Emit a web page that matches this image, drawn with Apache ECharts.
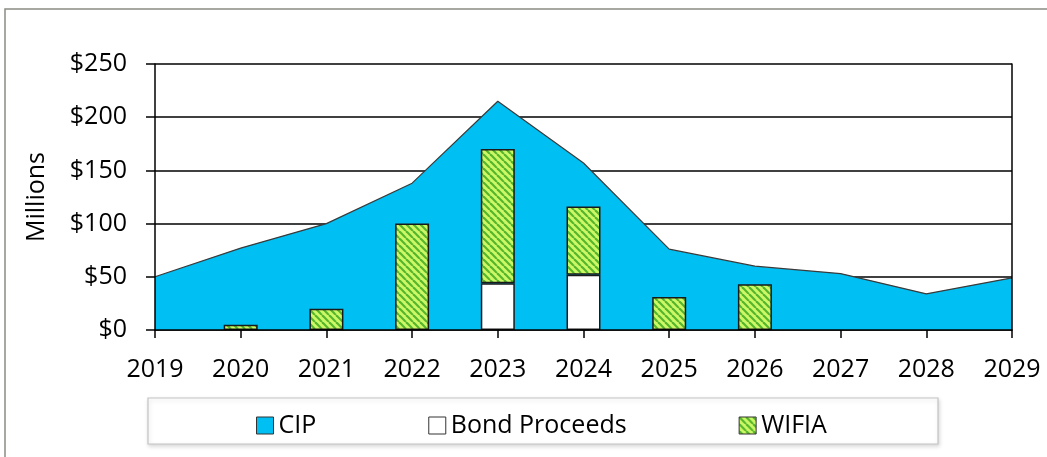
<!DOCTYPE html>
<html>
<head>
<meta charset="utf-8">
<script src="https://cdn.jsdelivr.net/npm/echarts@6/dist/echarts.min.js"></script>
<style>
html,body{margin:0;padding:0;background:#fff;}
#chart{width:1047px;height:457px;}
</style>
</head>
<body>
<div id="chart"></div>
<script>
const years = ['2019','2020','2021','2022','2023','2024','2025','2026','2027','2028','2029'];
const cip = [50, 77, 100, 138, 215, 157, 76, 60, 53, 34, 49];
const bondProceeds = [null, null, null, null, 44, 52, null, null, null, null, null];
const wifia = [null, 5, 20, 100, 126, 64, 31, 43, null, null, null];
const yTicks = [0, 50, 100, 150, 200, 250];

function makeHatch() {
  const p = 7;
  const c = document.createElement('canvas');
  c.width = p; c.height = p;
  const g = c.getContext('2d');
  g.fillStyle = '#ccf866';
  g.fillRect(0, 0, p, p);
  g.strokeStyle = '#55b52c';
  g.lineWidth = 2.2;
  for (let k = -1; k <= 1; k++) {
    g.beginPath();
    g.moveTo(k * p, 0);
    g.lineTo(k * p + p, p);
    g.stroke();
  }
  return c;
}
const hatch = { image: makeHatch(), repeat: 'repeat' };

const FONT = '"Open Sans", sans-serif';
const chart = echarts.init(document.getElementById('chart'), null, { renderer: 'canvas' });
chart.setOption({
  animation: false,
  backgroundColor: '#fff',
  textStyle: { fontFamily: FONT },
  graphic: [
    { type: 'rect', z: 0, shape: { x: 5, y: 9, width: 1100, height: 500 },
      style: { fill: 'none', stroke: '#8c8c84', lineWidth: 1.5 } },
    { type: 'rect', z: 0, shape: { x: 148, y: 398, width: 790, height: 46 },
      style: { fill: '#fff', stroke: '#c4c4c4', lineWidth: 1.2,
               shadowBlur: 4, shadowColor: 'rgba(0,0,0,0.15)', shadowOffsetY: 2, shadowOffsetX: 1 } }
  ],
  grid: { left: 155, right: 35, top: 64, bottom: 127 },
  legend: {
    left: 251, top: 408,
    itemWidth: 17, itemHeight: 17, itemGap: 112,
    textStyle: { fontSize: 25, color: '#000', fontFamily: FONT },
    data: [
      { name: 'CIP', icon: 'rect', itemStyle: { color: '#00bff2', borderColor: '#333', borderWidth: 1 } },
      { name: 'Bond Proceeds', icon: 'rect', itemStyle: { color: '#fff', borderColor: '#333', borderWidth: 1 } },
      { name: 'WIFIA', icon: 'rect', itemStyle: { color: hatch, borderColor: '#333', borderWidth: 1 } }
    ]
  },
  xAxis: {
    type: 'category', data: years, boundaryGap: false, z: 10,
    axisLine: { lineStyle: { color: '#000', width: 1.5 } },
    axisTick: { show: true, length: 8, lineStyle: { color: '#000', width: 1.5 } },
    axisLabel: { fontSize: 25, color: '#000', margin: 27, fontFamily: FONT, interval: 0 },
    splitLine: { show: false }
  },
  yAxis: [
    {
      type: 'value', min: 0, max: 250, interval: 50, z: 0,
      name: 'Millions', nameLocation: 'middle', nameGap: 106, nameRotate: 90,
      nameTextStyle: { fontSize: 25, color: '#000', fontFamily: FONT },
      axisLine: { show: false },
      axisTick: { show: true, length: 9, lineStyle: { color: '#000', width: 1.5 } },
      axisLabel: { fontSize: 25, color: '#000', margin: 28, fontFamily: FONT,
                   formatter: v => '$' + v },
      splitLine: { show: true, lineStyle: { color: '#000', width: 1.5 } }
    },
    {
      type: 'value', min: 0, max: 250, interval: 50, position: 'left', z: 10,
      axisLine: { show: true, lineStyle: { color: '#000', width: 1.5 } },
      axisTick: { show: false }, axisLabel: { show: false }, splitLine: { show: false }
    },
    {
      type: 'value', min: 0, max: 250, interval: 50, position: 'right', z: 10,
      axisLine: { show: true, lineStyle: { color: '#000', width: 1.5 } },
      axisTick: { show: false }, axisLabel: { show: false }, splitLine: { show: false }
    }
  ],
  series: [
    {
      name: 'CIP', type: 'line', data: cip, symbol: 'none', z: 2,
      lineStyle: { color: '#3a3a3a', width: 1.2 },
      itemStyle: { color: '#00bff2' },
      areaStyle: { color: '#00bff2', opacity: 1 }
    },
    {
      name: 'Bond Proceeds', type: 'bar', stack: 'b', data: bondProceeds, barWidth: 34, z: 3,
      itemStyle: { color: '#fff', borderColor: '#1a1a1a', borderWidth: 1.5 }
    },
    {
      name: 'WIFIA', type: 'bar', stack: 'b', data: wifia, barWidth: 34, z: 3,
      itemStyle: { color: hatch, borderColor: '#1a1a1a', borderWidth: 1.5 }
    }
  ]
});
</script>
</body>
</html>
